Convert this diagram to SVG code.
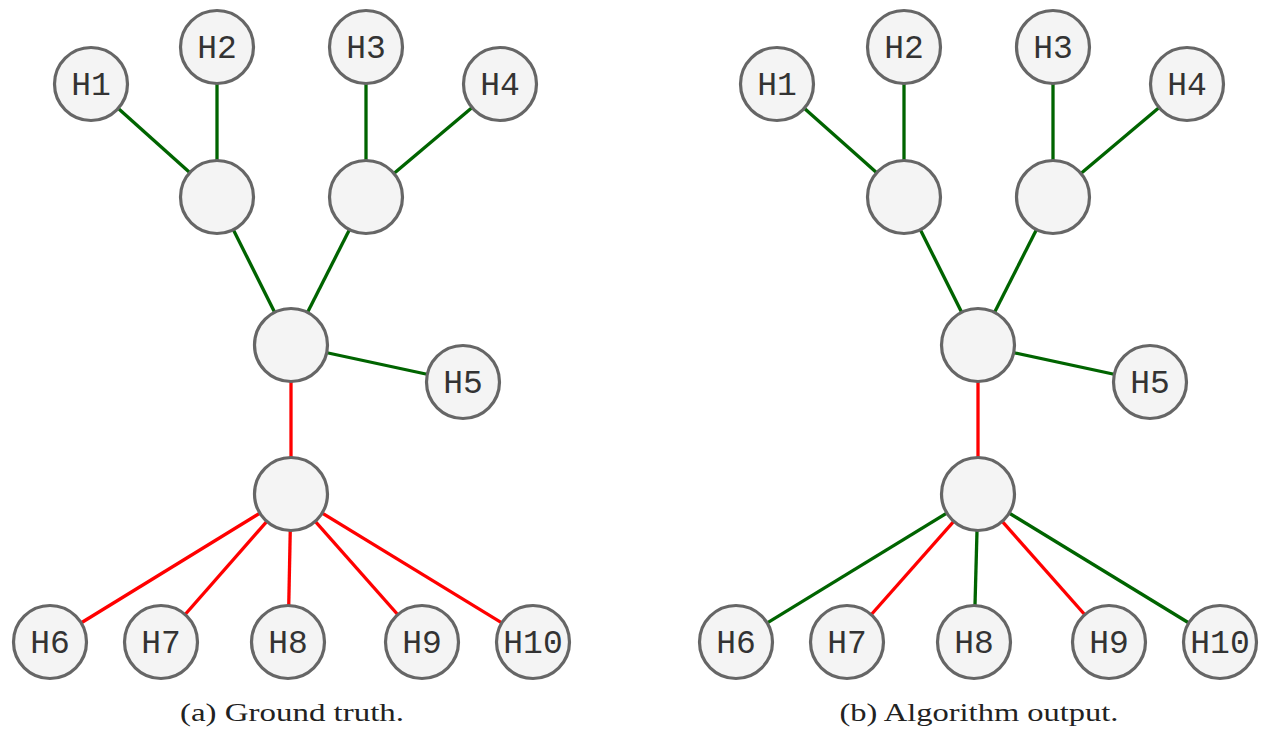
<svg xmlns="http://www.w3.org/2000/svg" width="1262" height="732" viewBox="0 0 1262 732">
<style>
.n circle{fill:#f4f4f4;stroke:#666;stroke-width:3.2}
.n text{font-family:"Liberation Mono",monospace;font-size:33px;fill:#333;text-anchor:middle}
.g{stroke:#006400;stroke-width:3.3}
.r{stroke:#ff0000;stroke-width:3.3}
.cap{font-family:"Liberation Serif",serif;font-size:26px;fill:#222;text-anchor:middle}
</style>
<rect width="1262" height="732" fill="#fff"/>
<g id="edges-a">
<line class="g" x1="91" y1="84" x2="217" y2="197"/>
<line class="g" x1="217" y1="47" x2="217" y2="197"/>
<line class="g" x1="366" y1="47" x2="366" y2="197"/>
<line class="g" x1="500" y1="84" x2="366" y2="197"/>
<line class="g" x1="217" y1="197" x2="291" y2="345"/>
<line class="g" x1="366" y1="197" x2="291" y2="345"/>
<line class="g" x1="291" y1="345" x2="463" y2="382"/>
<line class="r" x1="291" y1="345" x2="291" y2="494"/>
<line class="r" x1="291" y1="494" x2="50" y2="642"/>
<line class="r" x1="291" y1="494" x2="161" y2="642"/>
<line class="r" x1="291" y1="494" x2="288" y2="642"/>
<line class="r" x1="291" y1="494" x2="422" y2="642"/>
<line class="r" x1="291" y1="494" x2="533" y2="642"/>
</g>
<g id="edges-b">
<line class="g" x1="777" y1="84" x2="904" y2="197"/>
<line class="g" x1="904" y1="47" x2="904" y2="197"/>
<line class="g" x1="1053" y1="47" x2="1053" y2="197"/>
<line class="g" x1="1187" y1="84" x2="1053" y2="197"/>
<line class="g" x1="904" y1="197" x2="978" y2="345"/>
<line class="g" x1="1053" y1="197" x2="978" y2="345"/>
<line class="g" x1="978" y1="345" x2="1150" y2="382"/>
<line class="r" x1="978" y1="345" x2="978" y2="494"/>
<line class="g" x1="978" y1="494" x2="736" y2="642"/>
<line class="r" x1="978" y1="494" x2="847" y2="642"/>
<line class="g" x1="978" y1="494" x2="974" y2="642"/>
<line class="r" x1="978" y1="494" x2="1109" y2="642"/>
<line class="g" x1="978" y1="494" x2="1220" y2="642"/>
</g>
<g id="a-H1" class="n"><circle cx="91" cy="84" r="36.5"/><text x="91" y="95">H1</text></g>
<g id="a-H2" class="n"><circle cx="217" cy="47" r="36.5"/><text x="217" y="58">H2</text></g>
<g id="a-H3" class="n"><circle cx="366" cy="47" r="36.5"/><text x="366" y="58">H3</text></g>
<g id="a-H4" class="n"><circle cx="500" cy="84" r="36.5"/><text x="500" y="95">H4</text></g>
<g id="a-A" class="n"><circle cx="217" cy="197" r="36.5"/></g>
<g id="a-B" class="n"><circle cx="366" cy="197" r="36.5"/></g>
<g id="a-C" class="n"><circle cx="291" cy="345" r="36.5"/></g>
<g id="a-H5" class="n"><circle cx="463" cy="382" r="36.5"/><text x="463" y="393">H5</text></g>
<g id="a-D" class="n"><circle cx="291" cy="494" r="36.5"/></g>
<g id="a-H6" class="n"><circle cx="50" cy="642" r="36.5"/><text x="50" y="653">H6</text></g>
<g id="a-H7" class="n"><circle cx="161" cy="642" r="36.5"/><text x="161" y="653">H7</text></g>
<g id="a-H8" class="n"><circle cx="288" cy="642" r="36.5"/><text x="288" y="653">H8</text></g>
<g id="a-H9" class="n"><circle cx="422" cy="642" r="36.5"/><text x="422" y="653">H9</text></g>
<g id="a-H10" class="n"><circle cx="533" cy="642" r="36.5"/><text x="533" y="653">H10</text></g>
<g id="b-H1" class="n"><circle cx="777" cy="84" r="36.5"/><text x="777" y="95">H1</text></g>
<g id="b-H2" class="n"><circle cx="904" cy="47" r="36.5"/><text x="904" y="58">H2</text></g>
<g id="b-H3" class="n"><circle cx="1053" cy="47" r="36.5"/><text x="1053" y="58">H3</text></g>
<g id="b-H4" class="n"><circle cx="1187" cy="84" r="36.5"/><text x="1187" y="95">H4</text></g>
<g id="b-A" class="n"><circle cx="904" cy="197" r="36.5"/></g>
<g id="b-B" class="n"><circle cx="1053" cy="197" r="36.5"/></g>
<g id="b-C" class="n"><circle cx="978" cy="345" r="36.5"/></g>
<g id="b-H5" class="n"><circle cx="1150" cy="382" r="36.5"/><text x="1150" y="393">H5</text></g>
<g id="b-D" class="n"><circle cx="978" cy="494" r="36.5"/></g>
<g id="b-H6" class="n"><circle cx="736" cy="642" r="36.5"/><text x="736" y="653">H6</text></g>
<g id="b-H7" class="n"><circle cx="847" cy="642" r="36.5"/><text x="847" y="653">H7</text></g>
<g id="b-H8" class="n"><circle cx="974" cy="642" r="36.5"/><text x="974" y="653">H8</text></g>
<g id="b-H9" class="n"><circle cx="1109" cy="642" r="36.5"/><text x="1109" y="653">H9</text></g>
<g id="b-H10" class="n"><circle cx="1220" cy="642" r="36.5"/><text x="1220" y="653">H10</text></g>
<text class="cap" x="292" y="721" textLength="224" lengthAdjust="spacingAndGlyphs">(a) Ground truth.</text>
<text class="cap" x="979" y="721" textLength="279" lengthAdjust="spacingAndGlyphs">(b) Algorithm output.</text>
</svg>
